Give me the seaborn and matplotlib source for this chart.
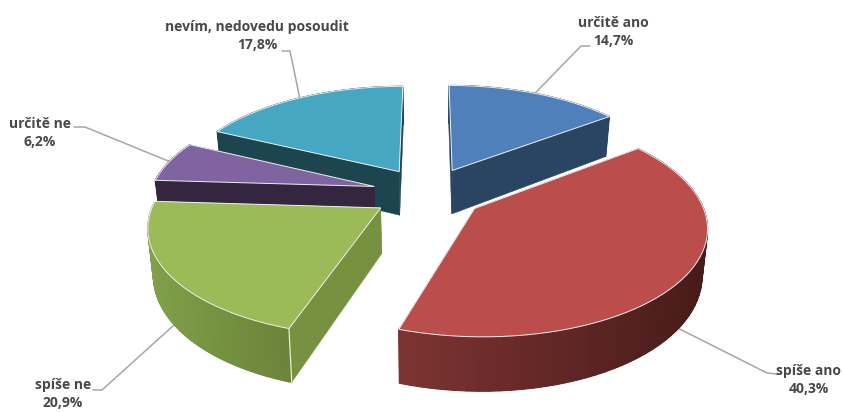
import numpy as np
import matplotlib
matplotlib.use('Agg')
import matplotlib.pyplot as plt
import seaborn as sns

# chart values
labels = ['určitě ano', 'spíše ano', 'spíše ne', 'určitě ne', 'nevím, nedovedu posoudit']
values = [14.7, 40.3, 20.9, 6.2, 17.8]
value_labels = ['14,7%', '40,3%', '20,9%', '6,2%', '17,8%']

# colours: top face, flat side, curved side left and right
top_colors = ['#4f80bb', '#bb4e4a', '#9bbb59', '#8063a1', '#45a7c2']
side_colors = ['#2a4562', '#7b3331', '#76913f', '#35263f', '#1c454f']
arc_left = ['#2a4562', '#7d3432', '#80a04a', '#35263f', '#1c454f']
arc_right = ['#2a4562', '#471b19', '#6a8339', '#35263f', '#1c454f']

# label centres in pixels, leader elbows/hooks, and whether the leader starts at the wall bottom
label_pos = [(613, 32), (809, 380), (63, 394), (40, 133), (257, 36)]
leader_elbow = [(581, 46), (767, 373), (102, 390), (85, 127), (290, 51)]
leader_hook = [(590, 46), (777, 374), (93, 390), (74, 127), (282, 51)]
leader_drop = [0, 1, 1, 0, 0]

# projection settings
cx, cy = 428, 193
A, B = 224, 104
k = 0.15
explode = 0.25
depth = 45

sns.set_theme(style='white')
plt.rcParams['font.family'] = ['Open Sans', 'DejaVu Sans']


def project(u, v, down=0.0):
    w = 1 / (1 + k * v)
    shrink = 1 - 0.02 * (down > 0)
    return cx + A * u * w * shrink, cy - B * v * w + down * w


fig = plt.figure(figsize=(8.44, 4.12), dpi=100)
ax = fig.add_axes([0, 0, 1, 1])
ax.set_xlim(0, 844)
ax.set_ylim(412, 0)
ax.axis('off')

edges = np.cumsum([0] + values) / sum(values) * 2 * np.pi
wedges = []
for i in range(len(values)):
    start, end = edges[i], edges[i + 1]
    mid = (start + end) / 2
    wedges.append({'a0': start, 'a1': end, 'mid': mid,
                   'ou': explode * np.sin(mid), 'ov': explode * np.cos(mid)})

# leaders go under the pie
for i, wd in enumerate(wedges):
    sx, sy = project(wd['ou'] + np.sin(wd['mid']), wd['ov'] + np.cos(wd['mid']),
                     depth * leader_drop[i])
    ex, ey = leader_elbow[i]
    hx, hy = leader_hook[i]
    sns.lineplot(x=[sx, ex, hx], y=[sy, ey, hy], ax=ax, color='#a6a6a6', linewidth=1.1,
                 estimator=None, sort=False, legend=False, zorder=1)

# back to front
order = [4, 3, 0, 2, 1]
z = 2
for i in order:
    wd = wedges[i]
    ou, ov = wd['ou'], wd['ov']
    angs = np.linspace(wd['a0'], wd['a1'], 60)
    arc_u = ou + np.sin(angs)
    arc_v = ov + np.cos(angs)

    # flat cut sides
    for a in (wd['a0'], wd['a1']):
        eu, ev = ou + np.sin(a), ov + np.cos(a)
        p = [project(ou, ov), project(eu, ev), project(eu, ev, depth), project(ou, ov, depth)]
        ax.fill([q[0] for q in p], [q[1] for q in p], color=side_colors[i], lw=0.3, zorder=z)
        z += 1

    # curved side: base shape first, then strips shaded left to right
    top_pts = [project(a, b) for a, b in zip(arc_u, arc_v)]
    bot_pts = [project(a, b, depth) for a, b in zip(arc_u, arc_v)]
    xs = [q[0] for q in top_pts]
    c0 = np.array(matplotlib.colors.to_rgb(arc_left[i]))
    c1 = np.array(matplotlib.colors.to_rgb(arc_right[i]))
    base = top_pts + bot_pts[::-1]
    ax.fill([q[0] for q in base], [q[1] for q in base], color=(c0 + c1) / 2, lw=0.3, zorder=z)
    z += 1
    for j in range(len(angs) - 1):
        t = ((xs[j] + xs[j + 1]) / 2 - min(xs)) / (max(xs) - min(xs))
        p = [top_pts[j], top_pts[j + 1], bot_pts[j + 1], bot_pts[j]]
        col = c0 + (c1 - c0) * t
        ax.fill([q[0] for q in p], [q[1] for q in p], color=col, lw=0.9, zorder=z)
    z += 1

    # light seam on the green slice corner
    if i == 2:
        eu, ev = ou + np.sin(wd['a0']), ov + np.cos(wd['a0'])
        p0, p1 = project(eu, ev), project(eu, ev, depth)
        ax.plot([p0[0], p1[0]], [p0[1], p1[1]], color='#e8eedb', lw=0.9, zorder=z)
        z += 1

    # top face
    poly = [project(ou, ov)] + top_pts
    ax.fill([q[0] for q in poly], [q[1] for q in poly], facecolor=top_colors[i],
            edgecolor='#eef0ee', lw=0.7, zorder=z)
    z += 1

for i in range(len(labels)):
    ax.text(label_pos[i][0], label_pos[i][1], labels[i] + '\n' + value_labels[i],
            ha='center', va='center', fontsize=10, fontweight='bold', color='#484848',
            linespacing=1.42, zorder=z)

fig.savefig('out.png', dpi=100)
